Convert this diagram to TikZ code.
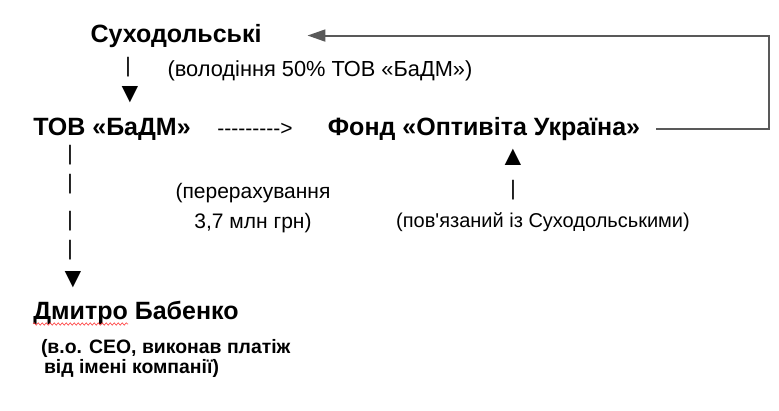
\documentclass[tikz,border=0pt]{standalone}
\usepackage{fontspec}
\newfontfamily\labelfont{Liberation Sans}
\usetikzlibrary{arrows.meta, decorations.pathmorphing}
\newcommand{\hy}{-\kern0pt}

\begin{document}
\begin{tikzpicture}[x=1pt, y=-1pt, font=\labelfont, line width=2pt,
        party/.style={anchor=base, inner sep=0pt, font=\labelfont\bfseries\fontsize{25}{30}\selectfont},
        note/.style={anchor=base, inner sep=0pt, font=\labelfont\fontsize{21}{30}\selectfont},
        role/.style={anchor=base west, inner sep=0pt, align=left, font=\labelfont\bfseries\fontsize{19.4}{18}\selectfont},
        glyph/.style={inner sep=0pt, font=\labelfont\fontsize{21}{24}\selectfont},
        pointer/.style={inner sep=0pt, font=\labelfont\fontsize{28}{30}\selectfont},
        link/.style={draw=black!65, -{Triangle[length=18pt, width=12pt]}}]
        \useasboundingbox[fill=white] (0,0) rectangle (779,410);

        \node[party](sukh) at (176, 42) {Суходольські};
        \node[note, font=\labelfont\fontsize{21.8}{30}\selectfont](own) at (320, 76) {(володіння 50\% ТОВ «БаДМ»)};
        \node[glyph](s1) at (128, 67) {|};
        \node[pointer](s2) at (130, 95) {▼};

        \node[party](tov) at (112, 135) {ТОВ «БаДМ»};
        \node[note](flow) at (255, 135) {\hy\hy\hy\hy\hy\hy\hy\hy\hy>};
        \node[party](fond) at (484, 135) {Фонд «Оптивіта Україна»};

        \node[note, align=center](sum) at (253, 228) {(перерахування\\3,7 млн грн)};

        \node[pointer](f1) at (513, 157) {▲};
        \node[glyph](f2) at (513, 190) {|};
        \node[note, font=\labelfont\fontsize{20}{30}\selectfont](tie) at (543, 227) {(пов'язаний із Суходольськими)};

        \node[glyph](t1) at (70, 155) {|};
        \node[glyph](t2) at (70, 184) {|};
        \node[glyph](t3) at (70, 221) {|};
        \node[glyph](t4) at (70, 250) {|};
        \node[pointer](t5) at (73, 280) {▼};

        \node[party](dmytro) at (136, 319) {Дмитро Бабенко};
        \draw[red!75, line width=0.6pt, decorate, decoration={snake, amplitude=1.2pt, segment length=4pt}] (33, 324) -- (128, 324);
        \node[role](ceo) at (40, 373) {(в.о. СЕО, виконав платіж\\\hspace*{3pt}від імені компанії)};

        \draw[link] ([xshift=15pt]fond.east) -- ++(113,0) |- ([xshift=45pt]sukh.east);
\end{tikzpicture}
\end{document}
